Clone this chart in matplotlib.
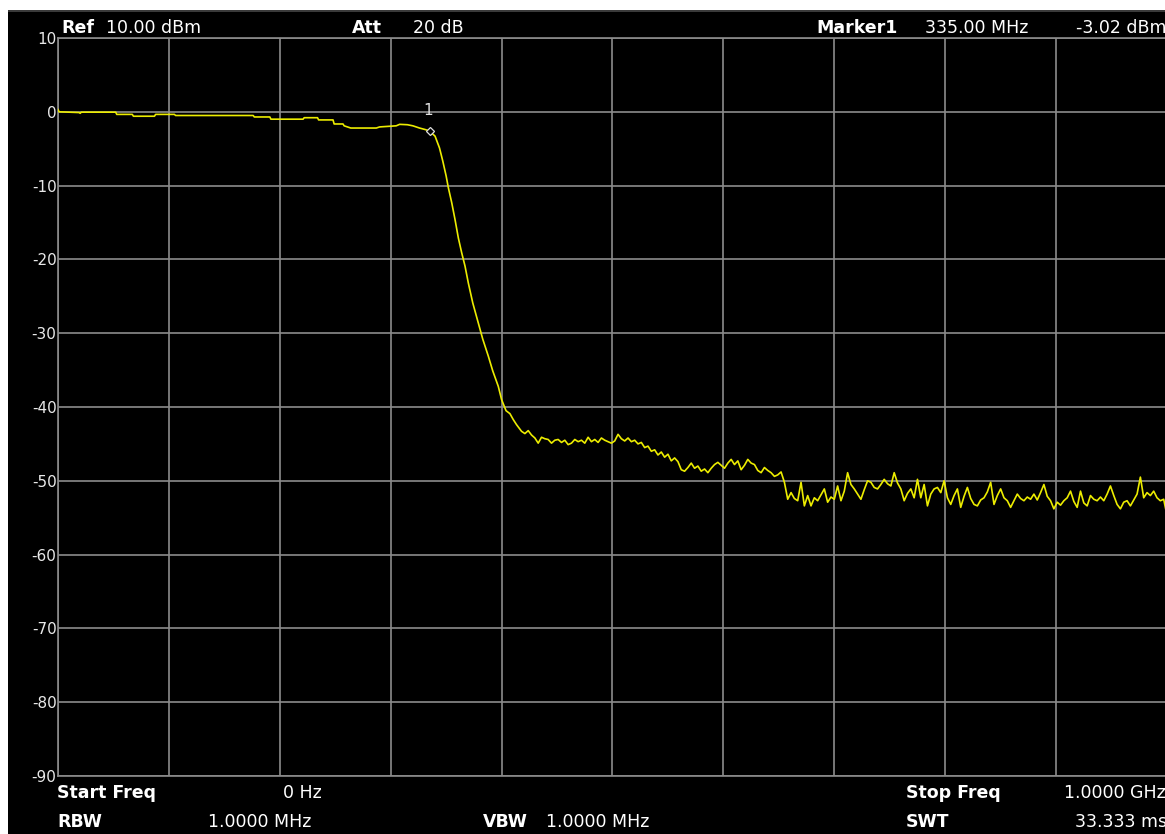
import numpy as np
import matplotlib
matplotlib.use('Agg')
import matplotlib.pyplot as plt
from matplotlib.patches import Rectangle


# trace data (MHz / dBm)
passband_mhz = [0, 1, 19, 20, 21, 52, 53, 67, 68, 87, 88, 105, 106, 176, 177, 191,
                192, 221, 222, 234, 235, 248, 249, 257, 258, 264, 287, 290, 305,
                308, 315, 320, 326, 331, 335]
passband_dbm = [0.3, 0.0, -0.1, -0.2, -0.05, -0.05, -0.35, -0.35, -0.6, -0.6, -0.35,
                -0.35, -0.5, -0.5, -0.7, -0.7, -1.0, -1.0, -0.8, -0.8, -1.1, -1.1,
                -1.65, -1.65, -1.9, -2.2, -2.2, -2.05, -1.9, -1.7, -1.75, -1.9, -2.2,
                -2.4, -2.6]

rolloff_mhz = [340, 344, 347, 350, 352, 355, 358, 361, 364, 367, 370, 374, 379, 383,
               388, 392, 397, 400, 404, 407.5, 410.5, 413.5]
rolloff_dbm = [-3.3, -4.9, -6.7, -8.7, -10.3, -12.3, -14.6, -17.1, -19.1, -20.9,
               -23.2, -25.9, -28.6, -30.8, -33.1, -35.1, -37.2, -39.0, -40.5, -40.9,
               -41.7, -42.4]

# noise floor, one value every 3 MHz from 418 MHz
floor_start_mhz = 418
floor_step_mhz = 3
floor_dbm = [
    -43.3, -43.6, -43.2, -43.8, -44.2, -44.9, -44.1, -44.3, -44.4, -44.9,
    -44.5, -44.4, -44.8, -44.5, -45.1, -44.9, -44.4, -44.7, -44.5, -44.9,
    -44.1, -44.7, -44.4, -44.8, -44.2, -44.5, -44.7, -44.9, -44.6, -43.7,
    -44.3, -44.6, -44.2, -44.7, -44.5, -45.0, -44.8, -45.5, -45.3, -46.0,
    -45.8, -46.5, -46.1, -46.8, -46.4, -47.3, -46.9, -47.4, -48.5, -48.7,
    -48.2, -47.6, -48.3, -48.0, -48.7, -48.4, -48.9, -48.3, -47.8, -47.5,
    -47.9, -48.3, -47.6, -47.1, -47.8, -47.3, -48.5, -47.9, -47.1, -47.6,
    -47.8, -48.6, -48.9, -48.2, -48.6, -48.9, -49.4, -49.2, -48.8, -50.2,
    -52.5, -51.6, -52.4, -52.7, -50.2, -53.4, -52.0, -53.4, -52.3, -52.7,
    -51.9, -51.1, -52.9, -52.2, -52.5, -50.7, -52.7, -51.4, -48.9, -50.5,
    -51.1, -51.8, -52.5, -51.2, -50.0, -50.2, -50.9, -51.1, -50.5, -49.8,
    -50.4, -50.7, -48.9, -50.3, -51.1, -52.7, -51.7, -51.1, -52.3, -49.8,
    -52.3, -50.5, -53.4, -51.8, -51.1, -50.9, -51.6, -50.0, -52.3, -53.2,
    -52.0, -51.1, -53.6, -52.1, -50.9, -52.4, -53.2, -53.4, -52.6, -52.3,
    -51.5, -50.2, -53.2, -52.0, -51.1, -52.3, -52.7, -53.6, -52.7, -51.8,
    -52.4, -52.7, -52.2, -52.5, -51.8, -52.6, -51.6, -50.5, -52.1, -52.7,
    -53.8, -52.9, -53.3, -52.7, -52.3, -51.4, -52.8, -53.6, -51.4, -53.0,
    -53.4, -52.0, -52.5, -52.7, -52.2, -52.7, -51.8, -50.7, -52.0, -53.2,
    -53.8, -52.9, -52.7, -53.4, -52.6, -51.8, -49.5, -52.3, -51.6, -52.0,
    -51.4, -52.3, -52.7, -52.5, -54.7,
]

marker_mhz = 335
marker_dbm = -3.02

y_ticks = [10, 0, -10, -20, -30, -40, -50, -60, -70, -80, -90]

GRID = '#8c8c8c'
TRACE = '#ecec00'
W, H = 1165, 834

floor_mhz = floor_start_mhz + floor_step_mhz * np.arange(len(floor_dbm))
freq = np.concatenate([passband_mhz, rolloff_mhz, floor_mhz])
level = np.concatenate([passband_dbm, rolloff_dbm, floor_dbm])

fig = plt.figure(figsize=(W / 100, H / 100), dpi=100, facecolor='white')
# black instrument screen with thin dark border on top
fig.patches.append(Rectangle((8 / W, 0), 1, (H - 10) / H, transform=fig.transFigure,
                             facecolor='black', edgecolor='none', zorder=-10))
fig.patches.append(Rectangle((8 / W, (H - 12) / H), 1, 2 / H, transform=fig.transFigure,
                             facecolor='#3a3a3a', edgecolor='none', zorder=-9))

ax = fig.add_axes([58 / W, 1 - 776 / H, 1109 / W, 738 / H])
ax.set_facecolor('black')
ax.set_xlim(0, 1000)
ax.set_ylim(-90, 10)
ax.set_xticks(np.arange(0, 1001, 100))
ax.set_xticklabels([])
ax.set_yticks(y_ticks)
ax.set_yticklabels([str(t) for t in y_ticks])
ax.tick_params(length=0, pad=1, labelcolor='#e8e8e8', labelsize=11)
ax.grid(True, color=GRID, linewidth=1.2)
for s in ax.spines.values():
    s.set_color(GRID)
    s.set_linewidth(1.2)

ax.plot(freq, level, color=TRACE, linewidth=1.2, zorder=3)

# marker 1
mk_y = np.interp(marker_mhz, freq, level)
ax.plot([marker_mhz], [mk_y], marker='D', markersize=4.5, markerfacecolor='black',
        markeredgecolor='#e0e0e0', markeredgewidth=0.9, zorder=4)
ax.annotate('1', (marker_mhz, mk_y), xytext=(-1, 9), textcoords='offset points',
            color='#e0e0e0', fontsize=11, ha='center', va='bottom')


def label(x, y, s, bold=False, ha='left'):
    fig.text(x / W, 1 - y / H, s, color='white', fontsize=12.5,
             fontweight='bold' if bold else 'normal', ha=ha, va='center')


label(61, 28, 'Ref', True)
label(106, 28, '10.00 dBm')
label(352, 28, 'Att', True)
label(413, 28, '20 dB')
label(816, 28, 'Marker1', True)
label(925, 28, '335.00 MHz')
label(1166, 28, f'{marker_dbm:.2f} dBm', ha='right')

label(57, 793, 'Start Freq', True)
label(283, 793, '0 Hz')
label(906, 793, 'Stop Freq', True)
label(1166, 793, '1.0000 GHz', ha='right')
label(57, 822, 'RBW', True)
label(208, 822, '1.0000 MHz')
label(483, 822, 'VBW', True)
label(546, 822, '1.0000 MHz')
label(906, 822, 'SWT', True)
label(1167, 822, '33.333 ms', ha='right')

fig.savefig('out.png', dpi=100, facecolor=fig.get_facecolor())
